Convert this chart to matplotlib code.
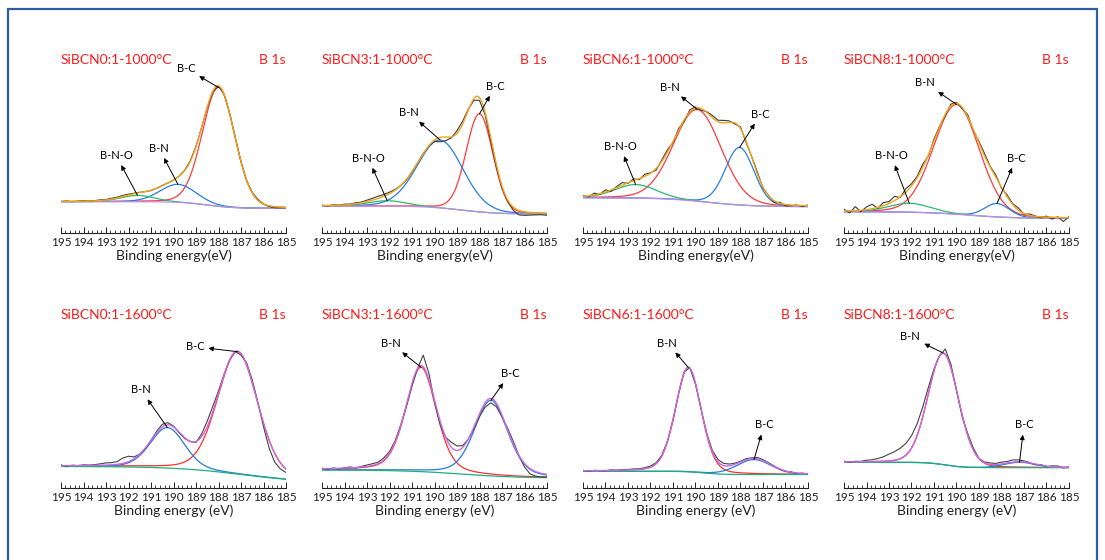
import numpy as np
import matplotlib
matplotlib.use("Agg")
from matplotlib import pyplot as plt
from matplotlib.patches import Rectangle
from matplotlib.ticker import MultipleLocator

plt.rcParams['font.family'] = ['Lato', 'DejaVu Sans']

# ---- data ----
titles = ["SiBCN0:1-1000°C", "SiBCN3:1-1000°C", "SiBCN6:1-1000°C", "SiBCN8:1-1000°C",
          "SiBCN0:1-1600°C", "SiBCN3:1-1600°C", "SiBCN6:1-1600°C", "SiBCN8:1-1600°C"]
xlabels = ["Binding energy(eV)"] * 4 + ["Binding energy (eV)"] * 4
tick_vals = list(range(185, 196))

# fitted components: label, centre (eV), height, FWHM (eV)
peak_labels = [["B-C", "B-N", "B-N-O"], ["B-C", "B-N", "B-N-O"],
               ["B-N", "B-C", "B-N-O"], ["B-N", "B-C", "B-N-O"],
               ["B-C", "B-N"], ["B-N", "B-C"], ["B-N", "B-C"], ["B-N", "B-C"]]
peak_centers = [[188.0, 189.8, 191.6], [188.0, 189.75, 192.1],
                [189.92, 188.04, 192.66], [190.0, 188.2, 192.1],
                [187.15, 190.27], [190.6, 187.49], [190.32, 187.4], [190.59, 187.2]]
peak_heights = [[0.66, 0.10, 0.035], [0.545, 0.377, 0.03],
                [0.51, 0.32, 0.075], [0.61, 0.075, 0.05],
                [0.68, 0.225], [0.58, 0.42], [0.58, 0.083], [0.62, 0.03]]
peak_fwhm = [[1.7, 1.9, 1.8], [1.4, 2.4, 2.0],
             [2.5, 1.5, 2.2], [2.4, 1.3, 2.2],
             [2.1, 1.8], [1.6, 1.75], [1.35, 1.8], [1.6, 1.6]]
peak_eta = [0.1, 0.1, 0.1, 0.1, 0.2, 0.3, 0.2, 0.1]

# step background: level at high BE, level at low BE, step centre, step width
bg_high = [0.174, 0.150, 0.196, 0.118, 0.120, 0.100, 0.093, 0.143]
bg_low = [0.137, 0.105, 0.146, 0.081, 0.030, 0.055, 0.075, 0.113]
bg_mid = [188.5, 188.8, 189.5, 189.5, 187.0, 188.8, 189.7, 190.5]
bg_width = [0.6, 0.8, 1.0, 1.0, 1.5, 1.3, 0.4, 0.4]

# measured spectrum minus fit envelope, 195 -> 185 eV in 0.25 eV steps
raw_dev = [
    [0.000, 0.002, -0.002, 0.001, 0.003, 0.000, 0.002, 0.004, 0.002, 0.005,
     0.004, 0.006, 0.005, 0.003, 0.002, 0.000, -0.002, 0.000, 0.002, 0.000,
     -0.002, 0.000, 0.002, 0.004, 0.003, 0.000, -0.003, -0.004, -0.002, 0.000,
     0.002, 0.003, 0.000, -0.003, 0.002, 0.004, 0.000, -0.004, -0.006, -0.004,
     -0.002],
    [0.002, -0.003, 0.003, 0.000, 0.004, 0.002, 0.005, 0.004, 0.008, 0.010,
     0.012, 0.010, 0.008, 0.004, 0.000, -0.004, -0.002, 0.000, 0.002, -0.002,
     -0.008, -0.025, -0.020, -0.005, 0.015, 0.015, 0.005, -0.010, -0.015, -0.015,
     -0.020, -0.015, -0.010, -0.010, -0.018, -0.025, -0.020, -0.015, -0.012, -0.010,
     -0.012],
    [0.004, -0.006, 0.010, -0.004, 0.012, -0.008, 0.006, 0.014, -0.004, 0.010,
     -0.006, 0.012, 0.002, -0.010, 0.008, 0.014, -0.006, 0.010, -0.008, 0.012,
     0.006, -0.010, 0.004, 0.012, 0.008, 0.014, 0.008, -0.006, 0.010, -0.008,
     0.004, 0.010, -0.006, 0.002, -0.010, 0.006, -0.008, -0.004, 0.002, -0.006,
     0.004],
    [0.010, -0.012, 0.022, -0.008, 0.015, 0.025, -0.005, 0.018, 0.010, 0.024,
     -0.004, 0.020, 0.012, 0.008, 0.018, -0.006, 0.010, 0.004, -0.008, 0.010,
     0.006, -0.008, 0.012, -0.004, 0.010, 0.014, 0.004, 0.012, -0.006, 0.010,
     0.004, 0.012, -0.004, 0.008, 0.002, -0.006, 0.006, -0.010, 0.004, -0.022,
     0.006],
    [0.005, -0.005, 0.003, 0.000, 0.004, 0.002, 0.004, 0.008, 0.012, 0.012,
     0.015, 0.030, 0.030, 0.010, 0.000, -0.005, 0.000, 0.008, 0.015, 0.012,
     0.005, -0.005, -0.005, 0.000, -0.005, 0.015, 0.030, 0.030, 0.015, 0.005,
     0.000, 0.000, -0.010, 0.010, 0.015, 0.005, -0.020, -0.045, -0.050, -0.035,
     -0.020],
    [0.004, -0.005, 0.003, -0.004, 0.002, 0.005, -0.003, 0.004, 0.008, 0.010,
     0.008, 0.012, 0.010, 0.008, 0.005, -0.010, -0.015, 0.000, 0.065, 0.035,
     -0.010, -0.020, 0.000, 0.028, 0.025, 0.010, 0.000, -0.010, -0.015, -0.025,
     -0.025, -0.020, -0.010, 0.010, 0.015, 0.000, -0.020, -0.030, -0.025, -0.020,
     -0.015],
    [0.003, -0.003, 0.002, 0.000, -0.002, 0.003, 0.000, 0.002, 0.003, 0.004,
     0.003, 0.005, 0.006, 0.005, 0.004, 0.000, -0.004, 0.000, 0.004, 0.002,
     -0.004, 0.000, 0.004, 0.008, 0.012, 0.012, 0.010, 0.006, 0.004, 0.006,
     0.004, 0.008, 0.006, 0.004, 0.002, -0.002, -0.003, 0.002, -0.003, 0.002,
     -0.002],
    [0.004, -0.004, 0.003, 0.002, 0.008, 0.010, 0.016, 0.025, 0.038, 0.048,
     0.058, 0.065, 0.068, 0.065, 0.055, 0.035, 0.012, 0.000, 0.030, 0.020,
     0.000, -0.010, 0.010, 0.010, 0.000, 0.004, 0.008, 0.006, 0.010, 0.008,
     0.012, 0.010, 0.006, 0.002, -0.004, 0.004, -0.003, 0.005, 0.006, -0.004,
     0.003],
]

# label text positions (eV, intensity)
label_pos = [[(189.45, 0.915), (190.65, 0.47), (192.55, 0.43)],
             [(187.3, 0.815), (191.15, 0.67), (192.95, 0.415)],
             [(191.15, 0.81), (187.1, 0.66), (193.35, 0.48)],
             [(191.4, 0.835), (187.35, 0.415), (192.9, 0.43)],
             [(189.05, 0.785), (191.45, 0.545)],
             [(191.95, 0.805), (186.65, 0.635)],
             [(191.25, 0.805), (186.95, 0.35)],
             [(192.05, 0.84), (187.0, 0.35)]]


def pseudo_voigt(E, c, h, w, eta):
    x = (E - c) / w
    return h * ((1 - eta) * np.exp(-4 * np.log(2) * x ** 2) + eta / (1 + 4 * x ** 2))


def background(E, hi, lo, mid, width):
    return lo + (hi - lo) / (1 + np.exp(-(E - mid) / width))


E_fit = np.linspace(195, 185, 401)
E_raw = np.linspace(195, 185, 41)

W, H = 1105, 560
fig = plt.figure(figsize=(W / 100, H / 100), dpi=100)

# blue frame round the whole figure
fig.patches.append(Rectangle((8 / W, -0.1), 1089 / W, 1.1 - 9 / H, transform=fig.transFigure,
                             fill=False, edgecolor='#2f5da3', lw=1.6))

x0s = [61, 322, 583, 844]
axis_y = [233, 488]

row1_cols = ['#ff3b3b', '#2a7de1', '#2eb872']
row2_cols = ['#ff2e2e', '#2878e0']

for k in range(8):
    r, c = divmod(k, 4)
    ax = fig.add_axes([x0s[c] / W, (H - axis_y[r]) / H, 225 / W, 180 / H])

    def bg_at(E):
        return background(E, bg_high[k], bg_low[k], bg_mid[k], bg_width[k])

    bg = bg_at(E_fit)
    comps = [pseudo_voigt(E_fit, cc, hh, ww, peak_eta[k])
             for cc, hh, ww in zip(peak_centers[k], peak_heights[k], peak_fwhm[k])]
    env = bg + np.sum(comps, axis=0)
    env_raw = bg_at(E_raw) + np.sum([pseudo_voigt(E_raw, cc, hh, ww, peak_eta[k])
                                     for cc, hh, ww in zip(peak_centers[k], peak_heights[k], peak_fwhm[k])], axis=0)
    raw = env_raw + np.array(raw_dev[k])

    if r == 0:
        for comp, col in zip(comps, row1_cols):
            ax.plot(E_fit, bg + comp, color=col, lw=0.9, zorder=2)
        ax.plot(E_fit, bg, color='#c58ae8', lw=0.9, zorder=2.5)
        ax.plot(E_raw, raw, color='#3a3a3a', lw=0.8, zorder=3)
        ax.plot(E_fit, env, color='#eea51c', lw=1.0, zorder=4)
    else:
        for comp, col in zip(comps, row2_cols):
            ax.plot(E_fit, bg + comp, color=col, lw=0.9, zorder=2)
        ax.plot(E_fit, bg, color='#1fae7a', lw=0.9, zorder=2.5)
        ax.plot(E_raw, raw, color='#444444', lw=0.8, zorder=2.8)
        ax.plot(E_fit, env, color='#c86ae0', lw=1.0, zorder=3)

    # arrows from each component's top to its label
    for lab, cc, hh, pos in zip(peak_labels[k], peak_centers[k], peak_heights[k], label_pos[k]):
        top = bg_at(cc) + pseudo_voigt(cc, cc, hh, 1.0, 0.0)
        ax.annotate(lab, xy=(cc, top), xytext=pos, fontsize=8, ha='center', va='center',
                    arrowprops=dict(arrowstyle='<|-', color='black', lw=0.7,
                                    mutation_scale=7, shrinkA=1, shrinkB=0), zorder=6)

    ax.text(0, 0.961, titles[k], transform=ax.transAxes, color='#ff1a1a', fontsize=10,
            ha='left', va='center')
    ax.text(1, 0.961, "B 1s", transform=ax.transAxes, color='#ff1a1a', fontsize=10,
            ha='right', va='center')

    ax.set_xlim(195, 185)
    ax.set_ylim(0, 1)
    ax.set_xticks(tick_vals)
    ax.set_xticklabels([str(t) for t in tick_vals])
    ax.xaxis.set_minor_locator(MultipleLocator(0.2))
    ax.tick_params(axis='x', which='major', direction='in', length=4, width=0.7,
                   labelsize=8.5, pad=3, colors='#222222')
    ax.tick_params(axis='x', which='minor', direction='in', length=2, width=0.6, colors='#222222')
    ax.set_yticks([])
    for s in ['top', 'right', 'left']:
        ax.spines[s].set_visible(False)
    ax.spines['bottom'].set_linewidth(0.8)
    ax.spines['bottom'].set_color('#222222')
    ax.set_xlabel(xlabels[k], fontsize=10, labelpad=1, color='#222222')
    ax.patch.set_alpha(0)

fig.savefig("out.png", dpi=100)
